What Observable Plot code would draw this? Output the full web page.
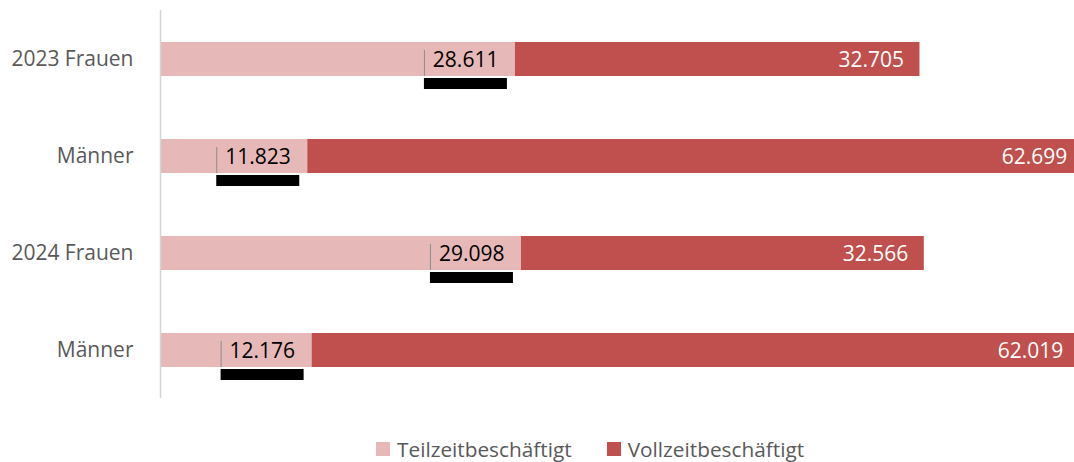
<!DOCTYPE html>
<html>
<head>
<meta charset="utf-8">
<script src="https://cdn.jsdelivr.net/npm/d3@7"></script>
<script src="https://cdn.jsdelivr.net/npm/@observablehq/plot@0.6"></script>
<style>
  body { margin: 0; background: white; font-family: "Open Sans", sans-serif; }
  #chart { width: 1074px; }
  .legend { display: flex; align-items: center; margin-top: 15px; padding-left: 376px; font-size: 20.8px; color: #595959; }
  .legend .item { display: flex; align-items: center; margin-right: 35px; }
  .legend .sw { width: 14px; height: 14px; margin-right: 7px; }
</style>
</head>
<body>
<div id="chart"></div>
<script>
const categories = ["2023 Frauen", "2023 Männer", "2024 Frauen", "2024 Männer"];
const tickLabels = ["2023 Frauen", "Männer", "2024 Frauen", "Männer"];
const series = ["Teilzeitbeschäftigt", "Vollzeitbeschäftigt"];
const teilzeit = [28611, 11823, 29098, 12176];
const vollzeit = [32705, 62699, 32566, 62019];
const colors = ["#E6B9B8", "#C0504D"];

const fmt = d3.formatLocale({decimal: ",", thousands: ".", grouping: [3], currency: ["", "€"]}).format(",d");

const rows = [];
categories.forEach((c, i) => {
  rows.push({cat: c, series: series[0], x1: 0, x2: teilzeit[i], value: teilzeit[i]});
  rows.push({cat: c, series: series[1], x1: teilzeit[i], x2: teilzeit[i] + vollzeit[i], value: vollzeit[i]});
});
const teilRows = rows.filter(d => d.series === series[0]);
const vollRows = rows.filter(d => d.series === series[1]);

const chart = Plot.plot({
  width: 1074,
  height: 420,
  marginLeft: 161,
  marginRight: 0,
  marginTop: 10,
  marginBottom: 22,
  style: {fontFamily: "Open Sans, sans-serif", fontSize: "19px", background: "white"},
  x: {domain: [0, 73808], axis: null},
  y: {domain: categories, paddingInner: 0.65, paddingOuter: 0.325, label: null},
  color: {domain: series, range: colors},
  marks: [
    Plot.barX(rows, {x1: "x1", x2: "x2", y: "cat", fill: "series", clip: true}),
    Plot.ruleX([0], {stroke: "#d4d4d4", strokeWidth: 1.5, dx: -1}),
    Plot.axisY({tickSize: 0, tickPadding: 28, fontSize: 21, fill: "#595959", tickFormat: (d) => tickLabels[categories.indexOf(d)]}),
    // label box artifacts for Teilzeit labels
    Plot.rect(teilRows, {x1: "x2", x2: "x2", y: "cat", fill: "#8c8c8c", insetLeft: -91, insetRight: 90, insetTop: 8, insetBottom: 0}),
    Plot.rect(teilRows, {x1: "x2", x2: "x2", y: "cat", fill: "black", insetLeft: -91, insetRight: 8, insetTop: 36, insetBottom: -13}),
    Plot.text(teilRows, {x: "x2", y: "cat", text: d => fmt(d.value), textAnchor: "end", dx: -17, dy: 1, fill: "black", fontSize: 21}),
    Plot.text(vollRows, {x: "x2", y: "cat", text: d => fmt(d.value), textAnchor: "end", dx: -16, dy: 1, fill: "white", fontSize: 21})
  ]
});
document.getElementById("chart").appendChild(chart);

const legend = document.createElement("div");
legend.className = "legend";
series.forEach((s, i) => {
  const item = document.createElement("div");
  item.className = "item";
  const sw = document.createElement("span");
  sw.className = "sw";
  sw.style.background = colors[i];
  const label = document.createElement("span");
  label.textContent = s;
  item.appendChild(sw);
  item.appendChild(label);
  legend.appendChild(item);
});
document.getElementById("chart").appendChild(legend);
</script>
</body>
</html>
